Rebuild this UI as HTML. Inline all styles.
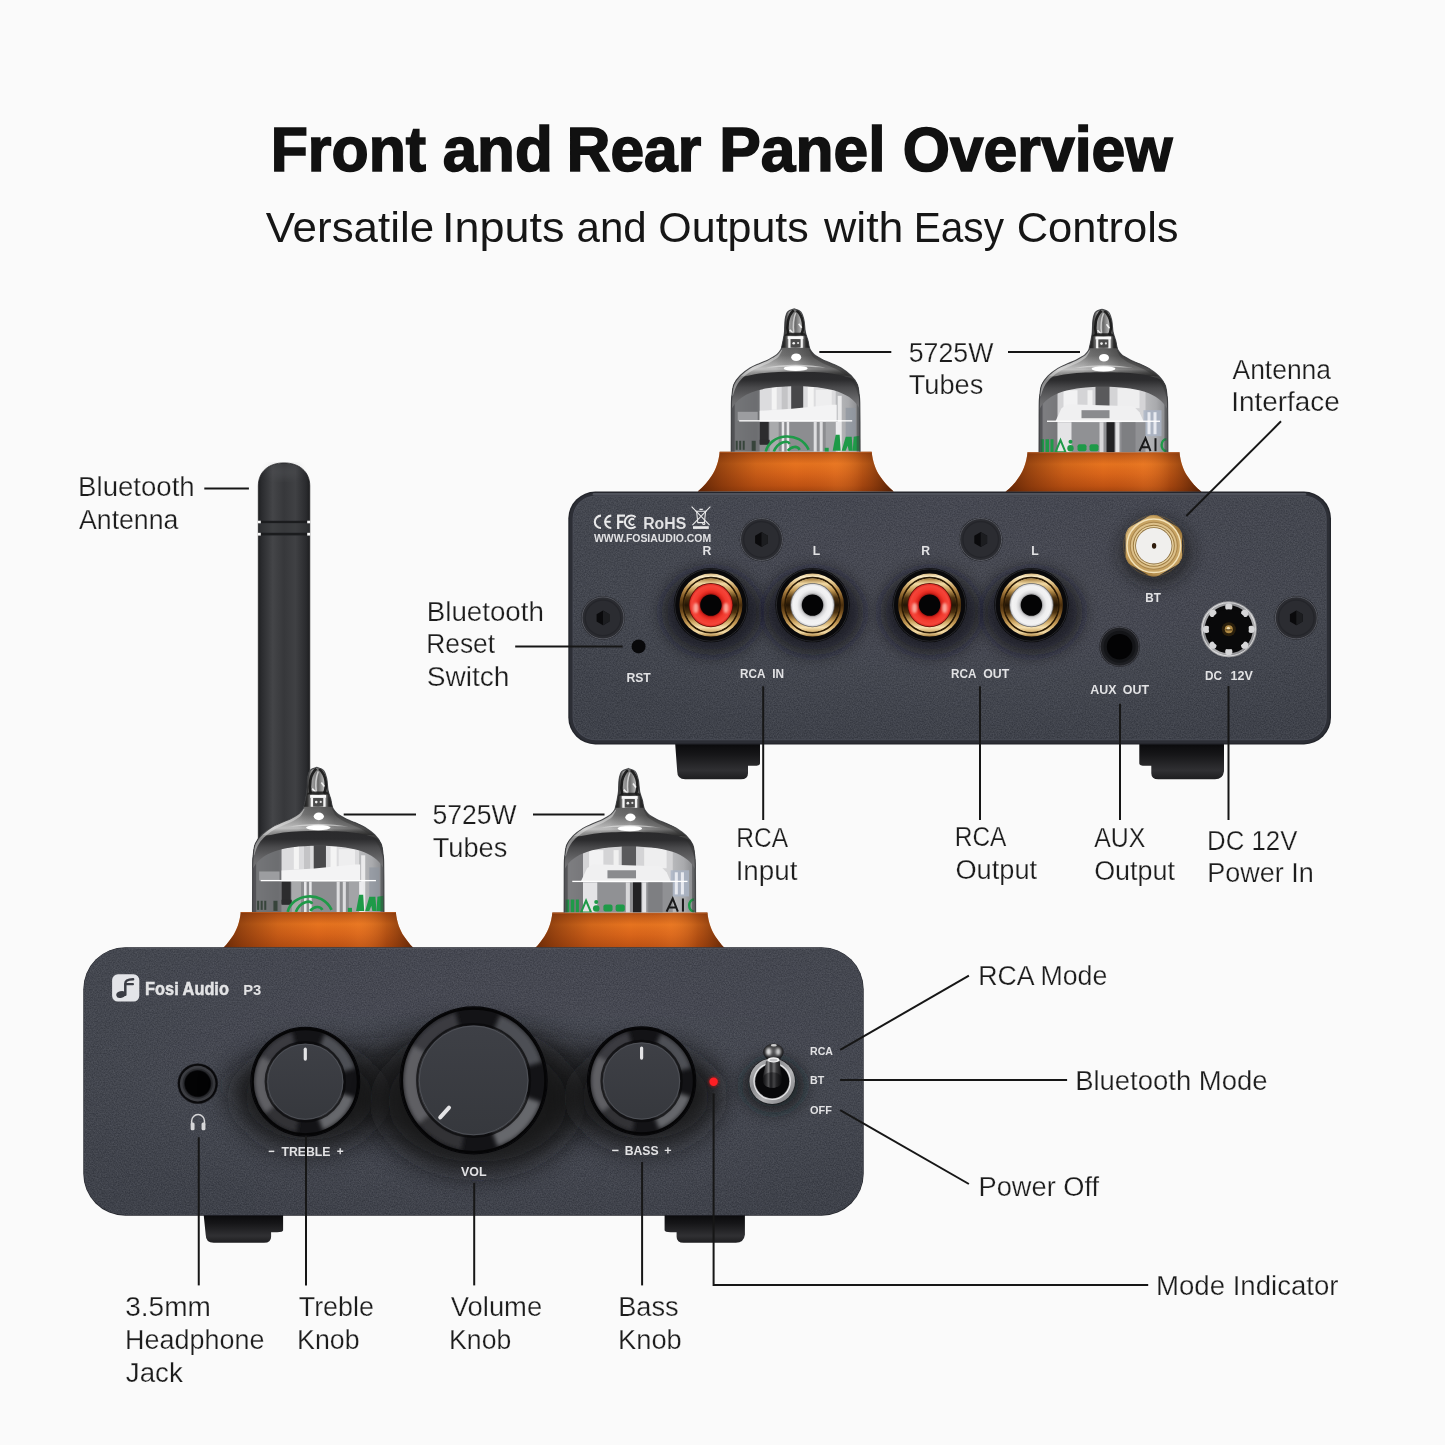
<!DOCTYPE html>
<html lang="en">
<head>
<meta charset="utf-8">
<title>Front and Rear Panel Overview</title>
<style>
html,body{margin:0;padding:0;background:#fafafa;width:1445px;height:1445px;overflow:hidden}
svg{display:block;position:absolute;left:0;top:0}
text{font-family:"Liberation Sans",sans-serif}
.lbl text{font-size:28.4px;fill:#1c1c1c;stroke:#fafafa;stroke-width:.25px;paint-order:fill stroke}
#labels,#headings,.pt{opacity:.999}
.ln{stroke:#161616;stroke-width:2;fill:none}
.pt text{font-weight:bold;fill:#e2e2e4}
</style>
</head>
<body>
<svg width="1445" height="1445" viewBox="0 0 1445 1445">
<defs>
<filter id="bl2" x="-30%" y="-30%" width="160%" height="160%"><feGaussianBlur stdDeviation="2"/></filter>
<filter id="bl4" x="-30%" y="-30%" width="160%" height="160%"><feGaussianBlur stdDeviation="4"/></filter>
<filter id="bl8" x="-100%" y="-100%" width="300%" height="300%"><feGaussianBlur stdDeviation="8"/></filter>
<filter id="bl14" x="-100%" y="-100%" width="300%" height="300%"><feGaussianBlur stdDeviation="14"/></filter>
<filter id="bl1" x="-30%" y="-30%" width="160%" height="160%"><feGaussianBlur stdDeviation="0.8"/></filter>

<filter id="grain" x="0" y="0" width="100%" height="100%" color-interpolation-filters="sRGB"><feTurbulence type="fractalNoise" baseFrequency="0.75" numOctaves="2" seed="7"/><feColorMatrix type="matrix" values="1.6 0 0 0 -0.3  1.6 0 0 0 -0.3  1.6 0 0 0 -0.28  0 0 0 0 1"/></filter>
<clipPath id="cpRear"><rect x="573.4" y="496.4" width="752.5" height="243" rx="22.4"/></clipPath>
<clipPath id="cpFront"><rect x="83.9" y="947.7" width="779.2" height="267.3" rx="41.5"/></clipPath>
<!-- orange base -->
<linearGradient id="orV" x1="0" y1="0" x2="0" y2="1">
<stop offset="0" stop-color="#a84a12"/><stop offset=".07" stop-color="#c25a18"/><stop offset=".3" stop-color="#e6731f"/><stop offset=".55" stop-color="#d9651a"/><stop offset=".85" stop-color="#c05313"/><stop offset="1" stop-color="#a5450e"/>
</linearGradient>
<linearGradient id="orH" x1="0" y1="0" x2="1" y2="0">
<stop offset="0" stop-color="#4a1b03" stop-opacity=".8"/><stop offset=".12" stop-color="#5e2406" stop-opacity=".55"/><stop offset=".3" stop-color="#6e2c08" stop-opacity=".18"/><stop offset=".5" stop-color="#7a330b" stop-opacity="0"/><stop offset=".7" stop-color="#ff9a40" stop-opacity=".12"/><stop offset=".84" stop-color="#6b2a08" stop-opacity=".35"/><stop offset="1" stop-color="#421803" stop-opacity=".85"/>
</linearGradient>

<!-- tube gradients -->
<linearGradient id="tbDome" gradientUnits="userSpaceOnUse" x1="0" y1="-125" x2="0" y2="-60">
<stop offset="0" stop-color="#6a6a6a"/><stop offset=".3" stop-color="#5e5e5e"/><stop offset=".44" stop-color="#6c6c6c"/><stop offset=".56" stop-color="#949494"/><stop offset=".65" stop-color="#b2b2b2"/><stop offset=".7" stop-color="#7a7a7a"/><stop offset=".76" stop-color="#4a4a4a"/><stop offset="1" stop-color="#3a3a3a"/>
</linearGradient>
<linearGradient id="tbDomeH" x1="0" y1="0" x2="1" y2="0">
<stop offset="0" stop-color="#fff" stop-opacity=".35"/><stop offset=".35" stop-color="#fff" stop-opacity=".12"/><stop offset=".5" stop-color="#000" stop-opacity="0"/><stop offset=".62" stop-color="#000" stop-opacity=".25"/><stop offset=".85" stop-color="#000" stop-opacity=".45"/><stop offset="1" stop-color="#000" stop-opacity=".3"/>
</linearGradient>
<linearGradient id="tbBand" gradientUnits="userSpaceOnUse" x1="0" y1="-80" x2="0" y2="-40">
<stop offset="0" stop-color="#2a2a2c"/><stop offset=".2" stop-color="#2c2c2e"/><stop offset=".4" stop-color="#4a4a4c"/><stop offset=".7" stop-color="#68686a"/><stop offset="1" stop-color="#7a7a7c"/>
</linearGradient>
<linearGradient id="tbBodyH" x1="0" y1="0" x2="1" y2="0">
<stop offset="0" stop-color="#55565a"/><stop offset=".05" stop-color="#8a8b8e"/><stop offset=".2" stop-color="#6e6f72"/><stop offset=".3" stop-color="#b9babc"/><stop offset=".5" stop-color="#d6d6d8"/><stop offset=".75" stop-color="#c4c5c7"/><stop offset=".9" stop-color="#a9aaad"/><stop offset=".97" stop-color="#8a8b8e"/><stop offset="1" stop-color="#5d5e62"/>
</linearGradient>
<linearGradient id="tbTip" x1="0" y1="0" x2="1" y2="0">
<stop offset="0" stop-color="#161616"/><stop offset=".14" stop-color="#303030"/><stop offset=".3" stop-color="#9c9c9c"/><stop offset=".5" stop-color="#6c6c6c"/><stop offset=".68" stop-color="#b4b4b4"/><stop offset=".84" stop-color="#2c2c2c"/><stop offset="1" stop-color="#141414"/>
</linearGradient>
<clipPath id="tbClip"><path d="M64.4 0C64.4 -5.0 64.3 -21.8 64.3 -30.0C64.2 -38.2 64.2 -44.7 64.1 -49.0C64.0 -53.3 64.0 -53.0 63.6 -56.0C63.2 -59.0 63.0 -63.9 61.6 -67.3C60.2 -70.7 57.9 -73.5 55.2 -76.3C52.5 -79.0 48.7 -81.8 45.5 -83.8C42.3 -85.8 38.6 -87.1 35.8 -88.4C32.9 -89.7 30.5 -90.4 28.4 -91.4C26.3 -92.4 24.7 -93.4 23.0 -94.4C21.3 -95.4 19.7 -96.1 18.3 -97.4C16.9 -98.7 15.4 -100.6 14.6 -102.0C13.8 -103.4 13.7 -104.3 13.3 -105.9C12.9 -107.5 12.8 -109.2 12.2 -111.5C11.6 -113.8 10.3 -116.6 9.6 -120.0C8.9 -123.4 9.0 -128.7 8.2 -132.0C7.4 -135.3 6.6 -138.2 5.0 -140.0C3.4 -141.8 -0.4 -142.5 -1.5 -143.0C-2.6 -142.5 -6.5 -141.8 -8.0 -140.0C-9.5 -138.2 -10.1 -135.3 -10.6 -132.0C-11.1 -128.7 -10.9 -123.4 -11.2 -120.0C-11.5 -116.6 -12.2 -113.8 -12.6 -111.5C-13.0 -109.2 -13.4 -107.5 -13.8 -105.9C-14.2 -104.3 -14.1 -103.4 -14.9 -102.0C-15.7 -100.6 -17.2 -98.7 -18.6 -97.4C-20.0 -96.1 -21.6 -95.4 -23.3 -94.4C-25.0 -93.4 -26.6 -92.4 -28.7 -91.4C-30.8 -90.4 -33.2 -89.7 -36.0 -88.4C-38.8 -87.1 -42.5 -85.8 -45.7 -83.8C-48.9 -81.8 -52.7 -79.0 -55.4 -76.3C-58.1 -73.5 -60.4 -70.7 -61.8 -67.3C-63.2 -63.9 -63.4 -59.0 -63.8 -56.0C-64.2 -53.0 -64.2 -53.3 -64.3 -49.0C-64.4 -44.7 -64.4 -38.2 -64.4 -30.0C-64.4 -21.8 -64.5 -5.0 -64.5 0.0Z"/></clipPath>

<!-- panels -->
<linearGradient id="pnlV" x1="0" y1="0" x2="0" y2="1">
<stop offset="0" stop-color="#3f424b"/><stop offset=".5" stop-color="#3d4049"/><stop offset="1" stop-color="#393c45"/>
</linearGradient>
<radialGradient id="pnlGlow" cx=".55" cy=".45" r=".6">
<stop offset="0" stop-color="#484b55" stop-opacity=".5"/><stop offset="1" stop-color="#484b55" stop-opacity="0"/>
</radialGradient>

<!-- gold -->
<linearGradient id="gold" x1="0" y1="0" x2="0" y2="1">
<stop offset="0" stop-color="#8d6a34"/><stop offset=".12" stop-color="#f3dcae"/><stop offset=".3" stop-color="#c59b57"/><stop offset=".55" stop-color="#6e4a1d"/><stop offset=".8" stop-color="#c79a52"/><stop offset=".92" stop-color="#f0d49c"/><stop offset="1" stop-color="#8a632a"/>
</linearGradient>
<linearGradient id="gold2" x1="0" y1="0" x2="1" y2="1">
<stop offset="0" stop-color="#ead2a0"/><stop offset=".3" stop-color="#c7a05c"/><stop offset=".6" stop-color="#a07838"/><stop offset=".85" stop-color="#caa566"/><stop offset="1" stop-color="#8e6a30"/>
</linearGradient>
<radialGradient id="redR" cx=".5" cy=".5" r=".5">
<stop offset=".48" stop-color="#8a0e0a"/><stop offset=".58" stop-color="#d8241c"/><stop offset=".72" stop-color="#f2392d"/><stop offset=".9" stop-color="#f4453a"/><stop offset="1" stop-color="#d9281f"/>
</radialGradient>
<radialGradient id="whtR" cx=".5" cy=".5" r=".5">
<stop offset=".48" stop-color="#8c8c8e"/><stop offset=".58" stop-color="#d4d4d6"/><stop offset=".72" stop-color="#efeff0"/><stop offset=".9" stop-color="#f3f3f4"/><stop offset="1" stop-color="#cfcfd1"/>
</radialGradient>

<linearGradient id="goldA" x1="0" y1="0" x2="0" y2="1">
<stop offset="0" stop-color="#d9b980"/><stop offset=".05" stop-color="#faecc8"/><stop offset=".12" stop-color="#e9cf98"/><stop offset=".25" stop-color="#b98d4a"/><stop offset=".4" stop-color="#6e4a1c"/><stop offset=".5" stop-color="#4a2f0e"/><stop offset=".62" stop-color="#76501f"/><stop offset=".8" stop-color="#c79d58"/><stop offset=".93" stop-color="#f3dba6"/><stop offset="1" stop-color="#a87e3c"/>
</linearGradient>
<linearGradient id="goldB" x1="0" y1="0" x2="0" y2="1">
<stop offset="0" stop-color="#a27a3c"/><stop offset=".1" stop-color="#f1d9a4"/><stop offset=".22" stop-color="#c39a55"/><stop offset=".36" stop-color="#4e3310"/><stop offset=".5" stop-color="#241606"/><stop offset=".64" stop-color="#4e3310"/><stop offset=".8" stop-color="#c9a05a"/><stop offset=".92" stop-color="#f5e0b0"/><stop offset="1" stop-color="#d2ad6c"/>
</linearGradient>
<!-- knob -->
<linearGradient id="knobRim" x1="0" y1="0" x2="1" y2="1">
<stop offset="0" stop-color="#2c2d31"/><stop offset=".22" stop-color="#3a3b40"/><stop offset=".38" stop-color="#0d0d10"/><stop offset=".62" stop-color="#0a0a0c"/><stop offset=".8" stop-color="#2a2b2f"/><stop offset="1" stop-color="#101013"/>
</linearGradient>
<linearGradient id="knobFace" x1="0" y1="0" x2="0" y2="1">
<stop offset="0" stop-color="#3e4046"/><stop offset="1" stop-color="#36383d"/>
</linearGradient>

<!-- antenna -->
<linearGradient id="antH" x1="0" y1="0" x2="1" y2="0">
<stop offset="0" stop-color="#1f2022"/><stop offset=".07" stop-color="#2b2c2f"/><stop offset=".28" stop-color="#444548"/><stop offset=".5" stop-color="#37383b"/><stop offset=".72" stop-color="#404144"/><stop offset=".93" stop-color="#2a2b2e"/><stop offset="1" stop-color="#1d1e20"/>
</linearGradient>

<!-- chrome lever -->
<linearGradient id="chromeH" x1="0" y1="0" x2="1" y2="0">
<stop offset="0" stop-color="#3a3a3c"/><stop offset=".25" stop-color="#d8d8da"/><stop offset=".45" stop-color="#f6f6f6"/><stop offset=".65" stop-color="#8a8a8c"/><stop offset="1" stop-color="#2a2a2c"/>
</linearGradient>
<linearGradient id="leverH" x1="0" y1="0" x2="1" y2="0">
<stop offset="0" stop-color="#141416"/><stop offset=".18" stop-color="#4a4a4c"/><stop offset=".3" stop-color="#858587"/><stop offset=".42" stop-color="#2c2c2e"/><stop offset=".58" stop-color="#6e6e70"/><stop offset=".72" stop-color="#38383a"/><stop offset="1" stop-color="#0e0e10"/>
</linearGradient>
<radialGradient id="ballR" cx=".5" cy=".45" r=".55">
<stop offset="0" stop-color="#5a5a5c"/><stop offset=".5" stop-color="#444446"/><stop offset=".85" stop-color="#222224"/><stop offset="1" stop-color="#101012"/>
</radialGradient>
<linearGradient id="silverRing" x1="0" y1="0" x2="1" y2="1">
<stop offset="0" stop-color="#c9c9cb"/><stop offset=".35" stop-color="#8a8b8e"/><stop offset=".6" stop-color="#b4b4b6"/><stop offset="1" stop-color="#707174"/>
</linearGradient>
<linearGradient id="footV" x1="0" y1="0" x2="0" y2="1">
<stop offset="0" stop-color="#0a0a0c"/><stop offset=".3" stop-color="#161618"/><stop offset=".75" stop-color="#303033"/><stop offset="1" stop-color="#1e1e20"/>
</linearGradient>


</defs>
<rect width="1445" height="1445" fill="#fafafa"/>

<!-- ===== HEADINGS ===== -->
<g id="headings">
<g font-size="63.6" font-weight="bold" fill="#111" stroke="#111" stroke-width="1.6">
<text x="270.7" y="171" textLength="155.38" lengthAdjust="spacingAndGlyphs">Front</text>
<text x="442.67" y="171" textLength="110.06" lengthAdjust="spacingAndGlyphs">and</text>
<text x="566.87" y="171" textLength="134.4" lengthAdjust="spacingAndGlyphs">Rear</text>
<text x="719.22" y="171" textLength="166.23" lengthAdjust="spacingAndGlyphs">Panel</text>
<text x="902.65" y="171" textLength="269.78" lengthAdjust="spacingAndGlyphs">Overview</text>
</g>
<g font-size="42.5" fill="#161616">
<text x="265.73" y="242" textLength="168.47" lengthAdjust="spacingAndGlyphs">Versatile</text>
<text x="442.03" y="242" textLength="122.43" lengthAdjust="spacingAndGlyphs">Inputs</text>
<text x="576.47" y="242" textLength="70.24" lengthAdjust="spacingAndGlyphs">and</text>
<text x="658.33" y="242" textLength="150.45" lengthAdjust="spacingAndGlyphs">Outputs</text>
<text x="823.94" y="242" textLength="79.48" lengthAdjust="spacingAndGlyphs">with</text>
<text x="913.65" y="242" textLength="90.33" lengthAdjust="spacingAndGlyphs">Easy</text>
<text x="1016.69" y="242" textLength="161.92" lengthAdjust="spacingAndGlyphs">Controls</text>
</g>
</g>

<g id="antenna">
<path d="M258.3 950V486C258.3 471 269.5 462.9 284 462.9C298.5 462.9 309.8 471 309.8 486V950Z" fill="url(#antH)"/>
<ellipse cx="284" cy="472" rx="15" ry="6" fill="#55565a" opacity=".45" filter="url(#bl4)"/>
<path d="M258.3 950V486C258.3 471 269.5 462.9 284 462.9C298.5 462.9 309.8 471 309.8 486V950" fill="none" stroke="#1c1d1f" stroke-width="1" opacity=".7"/>
<rect x="258.3" y="520.8" width="51.5" height="2.4" fill="#1b1c1e"/>
<rect x="258.3" y="523.2" width="51.5" height="9.6" fill="#38393c" opacity=".5"/>
<rect x="258.3" y="532.8" width="51.5" height="2.6" fill="#1b1c1e"/>
<rect x="257.8" y="520.7" width="3" height="2.6" fill="#fafafa"/><rect x="307.2" y="520.7" width="3" height="2.6" fill="#fafafa"/>
<rect x="257.8" y="532.8" width="3" height="2.8" fill="#fafafa"/><rect x="307.2" y="532.8" width="3" height="2.8" fill="#fafafa"/>
</g>

<g id="rear">
<g transform="translate(795.7 451.8) scale(1.0 1.0)">
<path d="M-76 0C-77 10-80 18-84 24C-88 30-92 35-98 39.6L98 39.6C92 35 88 30 84 24C80 18 77 10 76 0Z" fill="url(#orV)"/>
<path d="M-76 0C-77 10-80 18-84 24C-88 30-92 35-98 39.6L98 39.6C92 35 88 30 84 24C80 18 77 10 76 0Z" fill="url(#orH)"/>
<path d="M-76 0.6H76" stroke="#c8662a" stroke-width="1" opacity=".6"/>
<g clip-path="url(#tbClip)">
<rect x="-66" y="-145" width="132" height="146" fill="url(#tbBodyH)"/>
<rect x="-64" y="-68" width="28" height="70" fill="#6c6d70" opacity=".75"/>
<rect x="-36" y="-66" width="76" height="36" fill="#dcdcde"/>
<rect x="-24" y="-66" width="5" height="24" fill="#f4f4f4"/><rect x="-14" y="-66" width="6" height="24" fill="#c4c4c6"/>
<rect x="-4.5" y="-66" width="12" height="24" fill="#48484a"/>
<rect x="12" y="-66" width="6" height="22" fill="#f4f4f4"/><rect x="20" y="-62" width="16" height="18" fill="#eeeeef"/>
<path d="M-36-41L-4-43L36-47L41-47L41-31L-36-31Z" fill="#f3f3f4"/>
<rect x="-58" y="-40" width="20" height="9" fill="#9c9da0"/>
<rect x="42" y="-56" width="4" height="56" fill="#f0f0f1" opacity=".9"/><rect x="50" y="-44" width="10" height="30" fill="#8f95a0" opacity=".7"/>
<rect x="-36" y="-30" width="78" height="31" fill="#8c8d90"/>
<rect x="-36" y="-30" width="9" height="22" fill="#2c2c2e"/><rect x="-36" y="-12" width="12" height="5" fill="#2c2c2e"/>
<rect x="-26" y="-30" width="9" height="31" fill="#a9aaac"/>
<rect x="-14" y="-30" width="2.5" height="31" fill="#e8e8ea"/><rect x="-9" y="-30" width="2.5" height="31" fill="#e8e8ea"/>
<rect x="18" y="-30" width="3" height="31" fill="#dedee0"/><rect x="24" y="-30" width="3" height="31" fill="#dedee0"/><rect x="30" y="-30" width="10" height="31" fill="#a3a4a7"/>
<rect x="40" y="-30" width="4" height="31" fill="#ececee"/>
<g fill="none" stroke="#1e9a48" stroke-width="2.6"><path d="M-30 0C-26-18 4-22 13-2"/><path d="M-22 0C-18-10-8-12-6-8"/><path d="M-8-1C-4-6 2-6 4-2"/></g>
<g fill="#1e9a48"><path d="M37-1L40-17L44-17L45-1Z"/><path d="M46-1L50-15L56-15L57-1L53-1L52-6L50-1Z"/><path d="M57-1L58-15L64-16L64-1Z"/><rect x="29" y="-4" width="4" height="4"/></g>
<g fill="#2a3a2e" opacity=".8"><rect x="-60" y="-11" width="2" height="9"/><rect x="-56.5" y="-11" width="2" height="9"/><rect x="-53" y="-11" width="2" height="9"/><rect x="-44" y="-11" width="4" height="10"/></g>
<rect x="-56.5" y="-31.6" width="113" height="1.3" fill="#fff"/>
<rect x="-66" y="-70" width="5" height="72" fill="#3c3d40" opacity=".55"/><rect x="61" y="-70" width="5" height="72" fill="#3c3d40" opacity=".5"/>
<path d="M-66-40V-125H66V-40C60-56 45-66 0-66C-45-66-60-56-66-40Z" fill="url(#tbDome)"/>
<rect x="-66" y="-112" width="132" height="36" fill="url(#tbDomeH)"/>
<path d="M-66-38V-68C-50-79-25-80 0-80C25-80 50-79 66-68V-38C61-54 45-65.5 0-65.5C-45-65.5-61-54-66-38Z" fill="url(#tbBand)"/>
<path d="M-14.9 -102C-15.5 -101.2 -17.2 -98.7 -18.6 -97.4C-20.0 -96.1 -21.6 -95.4 -23.3 -94.4C-25.0 -93.4 -26.6 -92.4 -28.7 -91.4C-30.8 -90.4 -33.2 -89.7 -36.0 -88.4C-38.8 -87.1 -42.5 -85.8 -45.7 -83.8C-48.9 -81.8 -52.7 -79.0 -55.4 -76.3C-58.1 -73.5 -60.4 -70.7 -61.8 -67.3C-63.2 -63.9 -63.5 -57.9 -63.8 -56.0L-62.8 -56C-62.2 -57.6 -60.8 -62.8 -59.2 -65.7C-57.6 -68.7 -55.7 -71.2 -53.2 -73.7C-50.7 -76.2 -47.2 -78.8 -44.1 -80.8C-41.0 -82.8 -37.4 -84.1 -34.6 -85.4C-31.8 -86.7 -29.3 -87.5 -27.1 -88.6C-24.9 -89.7 -23.1 -90.8 -21.3 -92.0C-19.6 -93.2 -17.9 -94.2 -16.6 -95.9C-15.3 -97.6 -13.9 -101.0 -13.4 -102.0Z" fill="#e4e4e4" opacity=".5"/>
<path d="M14.9 -102C15.5 -101.2 17.2 -98.7 18.6 -97.4C20.0 -96.1 21.6 -95.4 23.3 -94.4C25.0 -93.4 26.6 -92.4 28.7 -91.4C30.8 -90.4 33.2 -89.7 36.0 -88.4C38.8 -87.1 42.5 -85.8 45.7 -83.8C48.9 -81.8 52.7 -79.0 55.4 -76.3C58.1 -73.5 60.4 -70.7 61.8 -67.3C63.2 -63.9 63.5 -57.9 63.8 -56.0L62.8 -56C62.2 -57.6 60.8 -62.8 59.2 -65.7C57.6 -68.7 55.7 -71.2 53.2 -73.7C50.7 -76.2 47.2 -78.8 44.1 -80.8C41.0 -82.8 37.4 -84.1 34.6 -85.4C31.8 -86.7 29.3 -87.5 27.1 -88.6C24.9 -89.7 23.1 -90.8 21.3 -92.0C19.6 -93.2 17.9 -94.2 16.6 -95.9C15.3 -97.6 13.9 -101.0 13.4 -102.0Z" fill="#2a2a2a" opacity=".35"/>
<path d="M-15-104L-11-132C-11-139-6-144-2-144C3-144 8-139 9-132L15-104Z" fill="url(#tbTip)"/>
<path d="M-7.5-117C-9.5-126-8-136-2-141.5M5.5-117C9-124 8-135 1-141.5" stroke="#141414" stroke-width="2.6" fill="none" opacity=".9"/>
<path d="M-2-119C-3-127-2-134 0-139" stroke="#e8e8e8" stroke-width="1.5" fill="none" opacity=".75"/>
<path d="M-6-122L-2-118M3-128L6-124" stroke="#fff" stroke-width="1.6" fill="none" opacity=".85"/>
<path d="M-12-116L-8-119L8-119L12-116Z" fill="#1a1a1a" opacity=".85"/>
<rect x="-8" y="-115.6" width="15.6" height="2.8" fill="#fafafa"/>
<rect x="-7.4" y="-113" width="2.3" height="9" fill="#f4f4f4"/><rect x="4.8" y="-113" width="2.3" height="9" fill="#f4f4f4"/>
<rect x="-5" y="-112.6" width="9.8" height="8" fill="#4a4a4a"/>
<circle cx="-2" cy="-108.6" r="1.3" fill="#f0f0f0"/><circle cx="2.4" cy="-108.8" r="1.1" fill="#e0e0e0"/>
<ellipse cx="0.5" cy="-94.5" rx="5" ry="3.8" fill="#fff"/>
<ellipse cx="0" cy="-83.4" rx="12" ry="2.7" fill="#fff"/>
<path d="M-30-84C-14-88 14-88 30-84C14-85.5-14-85.5-30-84Z" fill="#e8e8e8" opacity=".6"/>
</g>
<path d="M64.4 0C64.4 -5.0 64.3 -21.8 64.3 -30.0C64.2 -38.2 64.2 -44.7 64.1 -49.0C64.0 -53.3 64.0 -53.0 63.6 -56.0C63.2 -59.0 63.0 -63.9 61.6 -67.3C60.2 -70.7 57.9 -73.5 55.2 -76.3C52.5 -79.0 48.7 -81.8 45.5 -83.8C42.3 -85.8 38.6 -87.1 35.8 -88.4C32.9 -89.7 30.5 -90.4 28.4 -91.4C26.3 -92.4 24.7 -93.4 23.0 -94.4C21.3 -95.4 19.7 -96.1 18.3 -97.4C16.9 -98.7 15.4 -100.6 14.6 -102.0C13.8 -103.4 13.7 -104.3 13.3 -105.9C12.9 -107.5 12.8 -109.2 12.2 -111.5C11.6 -113.8 10.3 -116.6 9.6 -120.0C8.9 -123.4 9.0 -128.7 8.2 -132.0C7.4 -135.3 6.6 -138.2 5.0 -140.0C3.4 -141.8 -0.4 -142.5 -1.5 -143.0C-2.6 -142.5 -6.5 -141.8 -8.0 -140.0C-9.5 -138.2 -10.1 -135.3 -10.6 -132.0C-11.1 -128.7 -10.9 -123.4 -11.2 -120.0C-11.5 -116.6 -12.2 -113.8 -12.6 -111.5C-13.0 -109.2 -13.4 -107.5 -13.8 -105.9C-14.2 -104.3 -14.1 -103.4 -14.9 -102.0C-15.7 -100.6 -17.2 -98.7 -18.6 -97.4C-20.0 -96.1 -21.6 -95.4 -23.3 -94.4C-25.0 -93.4 -26.6 -92.4 -28.7 -91.4C-30.8 -90.4 -33.2 -89.7 -36.0 -88.4C-38.8 -87.1 -42.5 -85.8 -45.7 -83.8C-48.9 -81.8 -52.7 -79.0 -55.4 -76.3C-58.1 -73.5 -60.4 -70.7 -61.8 -67.3C-63.2 -63.9 -63.4 -59.0 -63.8 -56.0C-64.2 -53.0 -64.2 -53.3 -64.3 -49.0C-64.4 -44.7 -64.4 -38.2 -64.4 -30.0C-64.4 -21.8 -64.5 -5.0 -64.5 0.0" fill="none" stroke="#38393c" stroke-width="1.1" opacity=".85"/>
</g>
<g transform="translate(1103.5 452.2) scale(1.0 1.0)">
<path d="M-76 0C-77 10-80 18-84 24C-88 30-92 35-98 39.6L98 39.6C92 35 88 30 84 24C80 18 77 10 76 0Z" fill="url(#orV)"/>
<path d="M-76 0C-77 10-80 18-84 24C-88 30-92 35-98 39.6L98 39.6C92 35 88 30 84 24C80 18 77 10 76 0Z" fill="url(#orH)"/>
<path d="M-76 0.6H76" stroke="#c8662a" stroke-width="1" opacity=".6"/>
<g clip-path="url(#tbClip)">
<rect x="-66" y="-145" width="132" height="146" fill="url(#tbBodyH)"/>
<rect x="-64" y="-68" width="18" height="70" fill="#77787b" opacity=".7"/>
<rect x="-46" y="-66" width="88" height="36" fill="#d4d4d6"/>
<rect x="-40" y="-62" width="14" height="20" fill="#f2f2f3"/>
<rect x="-8" y="-66" width="14" height="22" fill="#5a5a5c"/><rect x="-16" y="-62" width="5" height="18" fill="#f0f0f0"/>
<rect x="14" y="-64" width="22" height="20" fill="#eeeeef"/>
<path d="M-42-44L-36-48L30-46L36-40L40-31L-48-31Z" fill="#f0f0f1"/>
<rect x="-22" y="-42" width="28" height="8" fill="#8a8b8e"/>
<rect x="40" y="-42" width="18" height="26" fill="#aab4c6" opacity=".8"/><rect x="44" y="-40" width="3" height="22" fill="#e8eaf0"/><rect x="50" y="-40" width="3" height="22" fill="#e8eaf0"/>
<rect x="-46" y="-30" width="88" height="31" fill="#909194"/>
<rect x="-46" y="-30" width="14" height="31" fill="#e4e4e6"/>
<rect x="3" y="-30" width="8" height="31" fill="#222224"/><rect x="12" y="-30" width="4" height="31" fill="#e4e4e6"/><rect x="-4" y="-30" width="4" height="31" fill="#d8d8da"/>
<rect x="18" y="-30" width="14" height="31" fill="#7e7f82"/>
<g fill="#1e9a48"><rect x="-63" y="-13" width="3.5" height="13"/><rect x="-58" y="-13" width="3.5" height="13"/><rect x="-53" y="-13" width="3" height="13"/><path d="M-48 0L-43-12L-38 0Z" fill="none" stroke="#1e9a48" stroke-width="2"/><circle cx="-33" cy="-4" r="3.2"/><circle cx="-33" cy="-10.5" r="2"/><rect x="-26" y="-8" width="9" height="7" rx="2"/><rect x="-14" y="-8" width="9" height="7" rx="2"/></g>
<path d="M36-1L42-14L47-1M38.5-5H45" fill="none" stroke="#1a1a1a" stroke-width="2"/><rect x="51" y="-14" width="2" height="13" fill="#1a1a1a"/><path d="M63-13C57-13 56-2 63-1" fill="none" stroke="#1e9a48" stroke-width="2.4"/>
<rect x="-56.5" y="-31.6" width="113" height="1.3" fill="#fff"/>
<rect x="-66" y="-70" width="5" height="72" fill="#3c3d40" opacity=".55"/><rect x="61" y="-70" width="5" height="72" fill="#3c3d40" opacity=".5"/>
<path d="M-66-40V-125H66V-40C60-56 45-66 0-66C-45-66-60-56-66-40Z" fill="url(#tbDome)"/>
<rect x="-66" y="-112" width="132" height="36" fill="url(#tbDomeH)"/>
<path d="M-66-38V-68C-50-79-25-80 0-80C25-80 50-79 66-68V-38C61-54 45-65.5 0-65.5C-45-65.5-61-54-66-38Z" fill="url(#tbBand)"/>
<path d="M-14.9 -102C-15.5 -101.2 -17.2 -98.7 -18.6 -97.4C-20.0 -96.1 -21.6 -95.4 -23.3 -94.4C-25.0 -93.4 -26.6 -92.4 -28.7 -91.4C-30.8 -90.4 -33.2 -89.7 -36.0 -88.4C-38.8 -87.1 -42.5 -85.8 -45.7 -83.8C-48.9 -81.8 -52.7 -79.0 -55.4 -76.3C-58.1 -73.5 -60.4 -70.7 -61.8 -67.3C-63.2 -63.9 -63.5 -57.9 -63.8 -56.0L-62.8 -56C-62.2 -57.6 -60.8 -62.8 -59.2 -65.7C-57.6 -68.7 -55.7 -71.2 -53.2 -73.7C-50.7 -76.2 -47.2 -78.8 -44.1 -80.8C-41.0 -82.8 -37.4 -84.1 -34.6 -85.4C-31.8 -86.7 -29.3 -87.5 -27.1 -88.6C-24.9 -89.7 -23.1 -90.8 -21.3 -92.0C-19.6 -93.2 -17.9 -94.2 -16.6 -95.9C-15.3 -97.6 -13.9 -101.0 -13.4 -102.0Z" fill="#e4e4e4" opacity=".5"/>
<path d="M14.9 -102C15.5 -101.2 17.2 -98.7 18.6 -97.4C20.0 -96.1 21.6 -95.4 23.3 -94.4C25.0 -93.4 26.6 -92.4 28.7 -91.4C30.8 -90.4 33.2 -89.7 36.0 -88.4C38.8 -87.1 42.5 -85.8 45.7 -83.8C48.9 -81.8 52.7 -79.0 55.4 -76.3C58.1 -73.5 60.4 -70.7 61.8 -67.3C63.2 -63.9 63.5 -57.9 63.8 -56.0L62.8 -56C62.2 -57.6 60.8 -62.8 59.2 -65.7C57.6 -68.7 55.7 -71.2 53.2 -73.7C50.7 -76.2 47.2 -78.8 44.1 -80.8C41.0 -82.8 37.4 -84.1 34.6 -85.4C31.8 -86.7 29.3 -87.5 27.1 -88.6C24.9 -89.7 23.1 -90.8 21.3 -92.0C19.6 -93.2 17.9 -94.2 16.6 -95.9C15.3 -97.6 13.9 -101.0 13.4 -102.0Z" fill="#2a2a2a" opacity=".35"/>
<path d="M-15-104L-11-132C-11-139-6-144-2-144C3-144 8-139 9-132L15-104Z" fill="url(#tbTip)"/>
<path d="M-7.5-117C-9.5-126-8-136-2-141.5M5.5-117C9-124 8-135 1-141.5" stroke="#141414" stroke-width="2.6" fill="none" opacity=".9"/>
<path d="M-2-119C-3-127-2-134 0-139" stroke="#e8e8e8" stroke-width="1.5" fill="none" opacity=".75"/>
<path d="M-6-122L-2-118M3-128L6-124" stroke="#fff" stroke-width="1.6" fill="none" opacity=".85"/>
<path d="M-12-116L-8-119L8-119L12-116Z" fill="#1a1a1a" opacity=".85"/>
<rect x="-8" y="-115.6" width="15.6" height="2.8" fill="#fafafa"/>
<rect x="-7.4" y="-113" width="2.3" height="9" fill="#f4f4f4"/><rect x="4.8" y="-113" width="2.3" height="9" fill="#f4f4f4"/>
<rect x="-5" y="-112.6" width="9.8" height="8" fill="#4a4a4a"/>
<circle cx="-2" cy="-108.6" r="1.3" fill="#f0f0f0"/><circle cx="2.4" cy="-108.8" r="1.1" fill="#e0e0e0"/>
<ellipse cx="0.5" cy="-94.5" rx="5" ry="3.8" fill="#fff"/>
<ellipse cx="0" cy="-83.4" rx="12" ry="2.7" fill="#fff"/>
<path d="M-30-84C-14-88 14-88 30-84C14-85.5-14-85.5-30-84Z" fill="#e8e8e8" opacity=".6"/>
</g>
<path d="M64.4 0C64.4 -5.0 64.3 -21.8 64.3 -30.0C64.2 -38.2 64.2 -44.7 64.1 -49.0C64.0 -53.3 64.0 -53.0 63.6 -56.0C63.2 -59.0 63.0 -63.9 61.6 -67.3C60.2 -70.7 57.9 -73.5 55.2 -76.3C52.5 -79.0 48.7 -81.8 45.5 -83.8C42.3 -85.8 38.6 -87.1 35.8 -88.4C32.9 -89.7 30.5 -90.4 28.4 -91.4C26.3 -92.4 24.7 -93.4 23.0 -94.4C21.3 -95.4 19.7 -96.1 18.3 -97.4C16.9 -98.7 15.4 -100.6 14.6 -102.0C13.8 -103.4 13.7 -104.3 13.3 -105.9C12.9 -107.5 12.8 -109.2 12.2 -111.5C11.6 -113.8 10.3 -116.6 9.6 -120.0C8.9 -123.4 9.0 -128.7 8.2 -132.0C7.4 -135.3 6.6 -138.2 5.0 -140.0C3.4 -141.8 -0.4 -142.5 -1.5 -143.0C-2.6 -142.5 -6.5 -141.8 -8.0 -140.0C-9.5 -138.2 -10.1 -135.3 -10.6 -132.0C-11.1 -128.7 -10.9 -123.4 -11.2 -120.0C-11.5 -116.6 -12.2 -113.8 -12.6 -111.5C-13.0 -109.2 -13.4 -107.5 -13.8 -105.9C-14.2 -104.3 -14.1 -103.4 -14.9 -102.0C-15.7 -100.6 -17.2 -98.7 -18.6 -97.4C-20.0 -96.1 -21.6 -95.4 -23.3 -94.4C-25.0 -93.4 -26.6 -92.4 -28.7 -91.4C-30.8 -90.4 -33.2 -89.7 -36.0 -88.4C-38.8 -87.1 -42.5 -85.8 -45.7 -83.8C-48.9 -81.8 -52.7 -79.0 -55.4 -76.3C-58.1 -73.5 -60.4 -70.7 -61.8 -67.3C-63.2 -63.9 -63.4 -59.0 -63.8 -56.0C-64.2 -53.0 -64.2 -53.3 -64.3 -49.0C-64.4 -44.7 -64.4 -38.2 -64.4 -30.0C-64.4 -21.8 -64.5 -5.0 -64.5 0.0" fill="none" stroke="#38393c" stroke-width="1.1" opacity=".85"/>
</g>
<path d="M675.2 744H760V763.4Q760 765.8 754.0 765.8H748.0V773.2Q748.0 779.2 741.0 779.2H685.2Q677.2 779.2 677.2 771.2Z" fill="url(#footV)"/>
<path d="M1139.3 744H1224V771.2Q1223.0 779.2 1215.0 779.2H1158.3Q1151.3 779.2 1151.3 773.2V765.8H1145.3Q1139.3 765.8 1139.3 763.4Z" fill="url(#footV)"/>
<rect x="568.3" y="491.6" width="762.7" height="252.8" rx="27" fill="#23252b"/>
<rect x="569.6" y="492.8" width="760.1" height="250.4" rx="26" fill="#2c2e35"/>
<path d="M594 494.3H1305" stroke="#555861" stroke-width="2.6" stroke-linecap="round" opacity=".9"/>
<rect x="572.6" y="495.6" width="754.1" height="244.6" rx="23" fill="#4a4d57"/>
<rect x="573.4" y="496.4" width="752.5" height="243" rx="22.4" fill="url(#pnlV)"/>
<rect x="573.4" y="496.4" width="752.5" height="243" rx="22.4" fill="url(#pnlGlow)"/>
<g clip-path="url(#cpRear)" opacity=".09"><rect x="573" y="496" width="754" height="244" filter="url(#grain)"/></g>
<g transform="translate(761.5 539.5)">
<circle r="21.8" fill="#1d1e22"/>
<circle r="21" fill="#2b2c31" stroke="#585a62" stroke-width="1"/>
<circle r="17.8" fill="none" stroke="#24252a" stroke-width="1.2"/>
<path d="M0-7.4L6.4-3.7V3.7L0 7.4L-6.4 3.7V-3.7Z" fill="#0a0a0c"/>
<path d="M0-7.4L6.4-3.7V3.7L0 7.4Z" fill="#1c1d20"/>
</g>
<g transform="translate(980.7 539.5)">
<circle r="21.8" fill="#1d1e22"/>
<circle r="21" fill="#2b2c31" stroke="#585a62" stroke-width="1"/>
<circle r="17.8" fill="none" stroke="#24252a" stroke-width="1.2"/>
<path d="M0-7.4L6.4-3.7V3.7L0 7.4L-6.4 3.7V-3.7Z" fill="#0a0a0c"/>
<path d="M0-7.4L6.4-3.7V3.7L0 7.4Z" fill="#1c1d20"/>
</g>
<g transform="translate(603 617.9)">
<circle r="21.8" fill="#1d1e22"/>
<circle r="21" fill="#2b2c31" stroke="#585a62" stroke-width="1"/>
<circle r="17.8" fill="none" stroke="#24252a" stroke-width="1.2"/>
<path d="M0-7.4L6.4-3.7V3.7L0 7.4L-6.4 3.7V-3.7Z" fill="#0a0a0c"/>
<path d="M0-7.4L6.4-3.7V3.7L0 7.4Z" fill="#1c1d20"/>
</g>
<g transform="translate(1296.3 617.9)">
<circle r="21.8" fill="#1d1e22"/>
<circle r="21" fill="#2b2c31" stroke="#585a62" stroke-width="1"/>
<circle r="17.8" fill="none" stroke="#24252a" stroke-width="1.2"/>
<path d="M0-7.4L6.4-3.7V3.7L0 7.4L-6.4 3.7V-3.7Z" fill="#0a0a0c"/>
<path d="M0-7.4L6.4-3.7V3.7L0 7.4Z" fill="#1c1d20"/>
</g>
<g transform="translate(710.9 605.1)">
<ellipse cx="1" cy="7" rx="50" ry="43" fill="#101115" opacity=".65" filter="url(#bl8)"/>
<circle r="37.2" fill="#09090b"/>
<circle r="36.2" fill="none" stroke="#26272b" stroke-width="1"/>
<circle r="31.5" fill="url(#goldA)"/>
<circle r="27.5" fill="none" stroke="#2a1a06" stroke-width="1.7"/>
<circle r="26.6" fill="url(#goldB)"/>
<circle r="22.2" fill="#5a0e08"/>
<circle r="21.4" fill="url(#redR)"/>
<ellipse cx="-15" cy="3" rx="2.6" ry="5" fill="#ffd0c4" opacity=".7" filter="url(#bl1)"/><ellipse cx="15" cy="3" rx="2.6" ry="5" fill="#ffd0c4" opacity=".7" filter="url(#bl1)"/>
<circle r="10.7" fill="#040405"/>
</g>
<g transform="translate(812.5 605.1)">
<ellipse cx="1" cy="7" rx="50" ry="43" fill="#101115" opacity=".65" filter="url(#bl8)"/>
<circle r="37.2" fill="#09090b"/>
<circle r="36.2" fill="none" stroke="#26272b" stroke-width="1"/>
<circle r="31.5" fill="url(#goldA)"/>
<circle r="27.5" fill="none" stroke="#2a1a06" stroke-width="1.7"/>
<circle r="26.6" fill="url(#goldB)"/>
<circle r="22.2" fill="#6a6a6c"/>
<circle r="21.4" fill="url(#whtR)"/>

<circle r="10.7" fill="#040405"/>
</g>
<g transform="translate(929.6 605.1)">
<ellipse cx="1" cy="7" rx="50" ry="43" fill="#101115" opacity=".65" filter="url(#bl8)"/>
<circle r="37.2" fill="#09090b"/>
<circle r="36.2" fill="none" stroke="#26272b" stroke-width="1"/>
<circle r="31.5" fill="url(#goldA)"/>
<circle r="27.5" fill="none" stroke="#2a1a06" stroke-width="1.7"/>
<circle r="26.6" fill="url(#goldB)"/>
<circle r="22.2" fill="#5a0e08"/>
<circle r="21.4" fill="url(#redR)"/>
<ellipse cx="-15" cy="3" rx="2.6" ry="5" fill="#ffd0c4" opacity=".7" filter="url(#bl1)"/><ellipse cx="15" cy="3" rx="2.6" ry="5" fill="#ffd0c4" opacity=".7" filter="url(#bl1)"/>
<circle r="10.7" fill="#040405"/>
</g>
<g transform="translate(1031.4 605.1)">
<ellipse cx="1" cy="7" rx="50" ry="43" fill="#101115" opacity=".65" filter="url(#bl8)"/>
<circle r="37.2" fill="#09090b"/>
<circle r="36.2" fill="none" stroke="#26272b" stroke-width="1"/>
<circle r="31.5" fill="url(#goldA)"/>
<circle r="27.5" fill="none" stroke="#2a1a06" stroke-width="1.7"/>
<circle r="26.6" fill="url(#goldB)"/>
<circle r="22.2" fill="#6a6a6c"/>
<circle r="21.4" fill="url(#whtR)"/>

<circle r="10.7" fill="#040405"/>
</g>
<circle cx="638.6" cy="646.4" r="7" fill="#08080a"/>
<g transform="translate(1119.6 646.7)"><circle r="20.2" fill="#1a1b1f"/><circle r="19.4" fill="#1e1f23" stroke="#494b52" stroke-width=".9"/><circle r="16" fill="#141518"/><circle r="12.8" fill="#030304"/></g>
<g transform="translate(1153.8 545.8)">
<ellipse cx="2" cy="6" rx="36" ry="33" fill="#121317" opacity=".6" filter="url(#bl8)"/>
<clipPath id="smaC"><circle r="30.8"/></clipPath>
<g clip-path="url(#smaC)"><polygon points="28.23,16.30 0.00,32.60 -28.23,16.30 -28.23,-16.30 -0.00,-32.60 28.23,-16.30" fill="url(#gold2)"/></g>
<circle r="30.2" fill="none" stroke="#8a6a34" stroke-width=".8" opacity=".6"/>
<circle r="26.8" fill="#c8a464"/><circle r="26.8" fill="none" stroke="#f3e2b8" stroke-width="1.5"/>
<circle r="24" fill="#a8844a"/><circle r="23" fill="#dcc08a"/>
<circle r="21" fill="#9c7a40"/><circle r="20" fill="#e8d2a2"/>
<circle r="18.6" fill="#8a6c3a"/>
<circle r="17.8" fill="#f0efed"/>
<ellipse cx=".3" cy="0" rx="2.2" ry="2.9" fill="#2e1c0c"/>
</g>
<g transform="translate(1228.8 629.3)">
<circle r="28" fill="url(#silverRing)"/>
<circle r="26.6" fill="none" stroke="#f2f2f4" stroke-width=".9" opacity=".8"/>
<circle r="24" fill="#09090a"/>
<circle cx="0.00" cy="-22.40" r="3.6" fill="#d6d6d8"/><circle cx="15.84" cy="-15.84" r="3.6" fill="#d6d6d8"/><circle cx="22.40" cy="-0.00" r="3.6" fill="#d6d6d8"/><circle cx="15.84" cy="15.84" r="3.6" fill="#d6d6d8"/><circle cx="0.00" cy="22.40" r="3.6" fill="#d6d6d8"/><circle cx="-15.84" cy="15.84" r="3.6" fill="#d6d6d8"/><circle cx="-22.40" cy="0.00" r="3.6" fill="#d6d6d8"/><circle cx="-15.84" cy="-15.84" r="3.6" fill="#d6d6d8"/>
<circle r="20" fill="#09090a"/>
<circle r="7" fill="#2a1f0c"/><circle r="4" fill="#b08a44"/><circle cx="-.4" cy="-1" r="1.6" fill="#f3deb0"/><path d="M-3.4 .6H3.4" stroke="#3a2a10" stroke-width=".9"/>
</g>
<g class="pt">
<text x="707" y="554.6" font-size="12.2" text-anchor="middle">R</text>
<text x="816.4" y="554.6" font-size="12.2" text-anchor="middle">L</text>
<text x="925.6" y="554.6" font-size="12.2" text-anchor="middle">R</text>
<text x="1035" y="554.6" font-size="12.2" text-anchor="middle">L</text>
<text x="626.4" y="682.2" font-size="12" textLength="24.4" lengthAdjust="spacingAndGlyphs">RST</text>
<text x="740" y="678" font-size="12.4" textLength="25.4" lengthAdjust="spacingAndGlyphs">RCA</text><text x="772.3" y="678" font-size="12.4" textLength="11.9" lengthAdjust="spacingAndGlyphs">IN</text>
<text x="951" y="678" font-size="12.4" textLength="25.4" lengthAdjust="spacingAndGlyphs">RCA</text><text x="983.2" y="678" font-size="12.4" textLength="26" lengthAdjust="spacingAndGlyphs">OUT</text>
<text x="1090.3" y="694" font-size="12.4" textLength="26.2" lengthAdjust="spacingAndGlyphs">AUX</text><text x="1122.8" y="694" font-size="12.4" textLength="26.2" lengthAdjust="spacingAndGlyphs">OUT</text>
<text x="1205" y="679.8" font-size="12.4" textLength="17" lengthAdjust="spacingAndGlyphs">DC</text><text x="1230.5" y="679.8" font-size="12.4" textLength="22.3" lengthAdjust="spacingAndGlyphs">12V</text>
<text x="1145.2" y="601.8" font-size="12.2" textLength="15.6" lengthAdjust="spacingAndGlyphs">BT</text>
<text x="594" y="541.6" font-size="10.6" textLength="117.2" lengthAdjust="spacingAndGlyphs">WWW.FOSIAUDIO.COM</text>
<g fill="none" stroke="#e9e9ea" stroke-width="2.1">
<path d="M601 515.6A6.2 6.2 0 0 0 601 528"/>
<path d="M611.3 515.6A6.2 6.2 0 0 0 611.3 528M606.2 521.8H610.6"/>
<path d="M618.2 529.1V515.7H625M618.2 521.9H623.6" stroke-width="2.3"/>
<path d="M635.6 517.2A6.4 6.4 0 1 0 635.6 526.6" stroke-width="2"/>
<path d="M634.2 519.6A3 3 0 1 0 634.2 524.2" stroke-width="1.7"/>
</g>
<text x="643.2" y="529.1" font-size="17.4" textLength="43" lengthAdjust="spacingAndGlyphs">RoHS</text>
<g fill="none" stroke="#e9e9ea" stroke-width="1.1">
<path d="M691.6 506.6L709.6 525.2M710.4 506.6L692.4 525.2"/>
<path d="M696.6 511.2H705.6L704.4 522.6H697.8ZM695.6 511.2H706.6M699.4 509.4H702.8"/>
<circle cx="703.8" cy="523.4" r="1.1"/>
</g>
<rect x="693" y="526.2" width="15.8" height="2.7" fill="#e9e9ea"/>
</g>
</g>

<g id="front">
<g transform="translate(318.3 911.9) scale(1.02 1.011)">
<path d="M-76 0C-77 10-80 18-84 24C-88 30-92 35-98 39.6L98 39.6C92 35 88 30 84 24C80 18 77 10 76 0Z" fill="url(#orV)"/>
<path d="M-76 0C-77 10-80 18-84 24C-88 30-92 35-98 39.6L98 39.6C92 35 88 30 84 24C80 18 77 10 76 0Z" fill="url(#orH)"/>
<path d="M-76 0.6H76" stroke="#c8662a" stroke-width="1" opacity=".6"/>
<g clip-path="url(#tbClip)">
<rect x="-66" y="-145" width="132" height="146" fill="url(#tbBodyH)"/>
<rect x="-64" y="-68" width="28" height="70" fill="#6c6d70" opacity=".75"/>
<rect x="-36" y="-66" width="76" height="36" fill="#dcdcde"/>
<rect x="-24" y="-66" width="5" height="24" fill="#f4f4f4"/><rect x="-14" y="-66" width="6" height="24" fill="#c4c4c6"/>
<rect x="-4.5" y="-66" width="12" height="24" fill="#48484a"/>
<rect x="12" y="-66" width="6" height="22" fill="#f4f4f4"/><rect x="20" y="-62" width="16" height="18" fill="#eeeeef"/>
<path d="M-36-41L-4-43L36-47L41-47L41-31L-36-31Z" fill="#f3f3f4"/>
<rect x="-58" y="-40" width="20" height="9" fill="#9c9da0"/>
<rect x="42" y="-56" width="4" height="56" fill="#f0f0f1" opacity=".9"/><rect x="50" y="-44" width="10" height="30" fill="#8f95a0" opacity=".7"/>
<rect x="-36" y="-30" width="78" height="31" fill="#8c8d90"/>
<rect x="-36" y="-30" width="9" height="22" fill="#2c2c2e"/><rect x="-36" y="-12" width="12" height="5" fill="#2c2c2e"/>
<rect x="-26" y="-30" width="9" height="31" fill="#a9aaac"/>
<rect x="-14" y="-30" width="2.5" height="31" fill="#e8e8ea"/><rect x="-9" y="-30" width="2.5" height="31" fill="#e8e8ea"/>
<rect x="18" y="-30" width="3" height="31" fill="#dedee0"/><rect x="24" y="-30" width="3" height="31" fill="#dedee0"/><rect x="30" y="-30" width="10" height="31" fill="#a3a4a7"/>
<rect x="40" y="-30" width="4" height="31" fill="#ececee"/>
<g fill="none" stroke="#1e9a48" stroke-width="2.6"><path d="M-30 0C-26-18 4-22 13-2"/><path d="M-22 0C-18-10-8-12-6-8"/><path d="M-8-1C-4-6 2-6 4-2"/></g>
<g fill="#1e9a48"><path d="M37-1L40-17L44-17L45-1Z"/><path d="M46-1L50-15L56-15L57-1L53-1L52-6L50-1Z"/><path d="M57-1L58-15L64-16L64-1Z"/><rect x="29" y="-4" width="4" height="4"/></g>
<g fill="#2a3a2e" opacity=".8"><rect x="-60" y="-11" width="2" height="9"/><rect x="-56.5" y="-11" width="2" height="9"/><rect x="-53" y="-11" width="2" height="9"/><rect x="-44" y="-11" width="4" height="10"/></g>
<rect x="-56.5" y="-31.6" width="113" height="1.3" fill="#fff"/>
<rect x="-66" y="-70" width="5" height="72" fill="#3c3d40" opacity=".55"/><rect x="61" y="-70" width="5" height="72" fill="#3c3d40" opacity=".5"/>
<path d="M-66-40V-125H66V-40C60-56 45-66 0-66C-45-66-60-56-66-40Z" fill="url(#tbDome)"/>
<rect x="-66" y="-112" width="132" height="36" fill="url(#tbDomeH)"/>
<path d="M-66-38V-68C-50-79-25-80 0-80C25-80 50-79 66-68V-38C61-54 45-65.5 0-65.5C-45-65.5-61-54-66-38Z" fill="url(#tbBand)"/>
<path d="M-14.9 -102C-15.5 -101.2 -17.2 -98.7 -18.6 -97.4C-20.0 -96.1 -21.6 -95.4 -23.3 -94.4C-25.0 -93.4 -26.6 -92.4 -28.7 -91.4C-30.8 -90.4 -33.2 -89.7 -36.0 -88.4C-38.8 -87.1 -42.5 -85.8 -45.7 -83.8C-48.9 -81.8 -52.7 -79.0 -55.4 -76.3C-58.1 -73.5 -60.4 -70.7 -61.8 -67.3C-63.2 -63.9 -63.5 -57.9 -63.8 -56.0L-62.8 -56C-62.2 -57.6 -60.8 -62.8 -59.2 -65.7C-57.6 -68.7 -55.7 -71.2 -53.2 -73.7C-50.7 -76.2 -47.2 -78.8 -44.1 -80.8C-41.0 -82.8 -37.4 -84.1 -34.6 -85.4C-31.8 -86.7 -29.3 -87.5 -27.1 -88.6C-24.9 -89.7 -23.1 -90.8 -21.3 -92.0C-19.6 -93.2 -17.9 -94.2 -16.6 -95.9C-15.3 -97.6 -13.9 -101.0 -13.4 -102.0Z" fill="#e4e4e4" opacity=".5"/>
<path d="M14.9 -102C15.5 -101.2 17.2 -98.7 18.6 -97.4C20.0 -96.1 21.6 -95.4 23.3 -94.4C25.0 -93.4 26.6 -92.4 28.7 -91.4C30.8 -90.4 33.2 -89.7 36.0 -88.4C38.8 -87.1 42.5 -85.8 45.7 -83.8C48.9 -81.8 52.7 -79.0 55.4 -76.3C58.1 -73.5 60.4 -70.7 61.8 -67.3C63.2 -63.9 63.5 -57.9 63.8 -56.0L62.8 -56C62.2 -57.6 60.8 -62.8 59.2 -65.7C57.6 -68.7 55.7 -71.2 53.2 -73.7C50.7 -76.2 47.2 -78.8 44.1 -80.8C41.0 -82.8 37.4 -84.1 34.6 -85.4C31.8 -86.7 29.3 -87.5 27.1 -88.6C24.9 -89.7 23.1 -90.8 21.3 -92.0C19.6 -93.2 17.9 -94.2 16.6 -95.9C15.3 -97.6 13.9 -101.0 13.4 -102.0Z" fill="#2a2a2a" opacity=".35"/>
<path d="M-15-104L-11-132C-11-139-6-144-2-144C3-144 8-139 9-132L15-104Z" fill="url(#tbTip)"/>
<path d="M-7.5-117C-9.5-126-8-136-2-141.5M5.5-117C9-124 8-135 1-141.5" stroke="#141414" stroke-width="2.6" fill="none" opacity=".9"/>
<path d="M-2-119C-3-127-2-134 0-139" stroke="#e8e8e8" stroke-width="1.5" fill="none" opacity=".75"/>
<path d="M-6-122L-2-118M3-128L6-124" stroke="#fff" stroke-width="1.6" fill="none" opacity=".85"/>
<path d="M-12-116L-8-119L8-119L12-116Z" fill="#1a1a1a" opacity=".85"/>
<rect x="-8" y="-115.6" width="15.6" height="2.8" fill="#fafafa"/>
<rect x="-7.4" y="-113" width="2.3" height="9" fill="#f4f4f4"/><rect x="4.8" y="-113" width="2.3" height="9" fill="#f4f4f4"/>
<rect x="-5" y="-112.6" width="9.8" height="8" fill="#4a4a4a"/>
<circle cx="-2" cy="-108.6" r="1.3" fill="#f0f0f0"/><circle cx="2.4" cy="-108.8" r="1.1" fill="#e0e0e0"/>
<ellipse cx="0.5" cy="-94.5" rx="5" ry="3.8" fill="#fff"/>
<ellipse cx="0" cy="-83.4" rx="12" ry="2.7" fill="#fff"/>
<path d="M-30-84C-14-88 14-88 30-84C14-85.5-14-85.5-30-84Z" fill="#e8e8e8" opacity=".6"/>
</g>
<path d="M64.4 0C64.4 -5.0 64.3 -21.8 64.3 -30.0C64.2 -38.2 64.2 -44.7 64.1 -49.0C64.0 -53.3 64.0 -53.0 63.6 -56.0C63.2 -59.0 63.0 -63.9 61.6 -67.3C60.2 -70.7 57.9 -73.5 55.2 -76.3C52.5 -79.0 48.7 -81.8 45.5 -83.8C42.3 -85.8 38.6 -87.1 35.8 -88.4C32.9 -89.7 30.5 -90.4 28.4 -91.4C26.3 -92.4 24.7 -93.4 23.0 -94.4C21.3 -95.4 19.7 -96.1 18.3 -97.4C16.9 -98.7 15.4 -100.6 14.6 -102.0C13.8 -103.4 13.7 -104.3 13.3 -105.9C12.9 -107.5 12.8 -109.2 12.2 -111.5C11.6 -113.8 10.3 -116.6 9.6 -120.0C8.9 -123.4 9.0 -128.7 8.2 -132.0C7.4 -135.3 6.6 -138.2 5.0 -140.0C3.4 -141.8 -0.4 -142.5 -1.5 -143.0C-2.6 -142.5 -6.5 -141.8 -8.0 -140.0C-9.5 -138.2 -10.1 -135.3 -10.6 -132.0C-11.1 -128.7 -10.9 -123.4 -11.2 -120.0C-11.5 -116.6 -12.2 -113.8 -12.6 -111.5C-13.0 -109.2 -13.4 -107.5 -13.8 -105.9C-14.2 -104.3 -14.1 -103.4 -14.9 -102.0C-15.7 -100.6 -17.2 -98.7 -18.6 -97.4C-20.0 -96.1 -21.6 -95.4 -23.3 -94.4C-25.0 -93.4 -26.6 -92.4 -28.7 -91.4C-30.8 -90.4 -33.2 -89.7 -36.0 -88.4C-38.8 -87.1 -42.5 -85.8 -45.7 -83.8C-48.9 -81.8 -52.7 -79.0 -55.4 -76.3C-58.1 -73.5 -60.4 -70.7 -61.8 -67.3C-63.2 -63.9 -63.4 -59.0 -63.8 -56.0C-64.2 -53.0 -64.2 -53.3 -64.3 -49.0C-64.4 -44.7 -64.4 -38.2 -64.4 -30.0C-64.4 -21.8 -64.5 -5.0 -64.5 0.0" fill="none" stroke="#38393c" stroke-width="1.1" opacity=".85"/>
</g>
<g transform="translate(629.9 912.6) scale(1.02 1.008)">
<path d="M-76 0C-77 10-80 18-84 24C-88 30-92 35-98 39.6L98 39.6C92 35 88 30 84 24C80 18 77 10 76 0Z" fill="url(#orV)"/>
<path d="M-76 0C-77 10-80 18-84 24C-88 30-92 35-98 39.6L98 39.6C92 35 88 30 84 24C80 18 77 10 76 0Z" fill="url(#orH)"/>
<path d="M-76 0.6H76" stroke="#c8662a" stroke-width="1" opacity=".6"/>
<g clip-path="url(#tbClip)">
<rect x="-66" y="-145" width="132" height="146" fill="url(#tbBodyH)"/>
<rect x="-64" y="-68" width="18" height="70" fill="#77787b" opacity=".7"/>
<rect x="-46" y="-66" width="88" height="36" fill="#d4d4d6"/>
<rect x="-40" y="-62" width="14" height="20" fill="#f2f2f3"/>
<rect x="-8" y="-66" width="14" height="22" fill="#5a5a5c"/><rect x="-16" y="-62" width="5" height="18" fill="#f0f0f0"/>
<rect x="14" y="-64" width="22" height="20" fill="#eeeeef"/>
<path d="M-42-44L-36-48L30-46L36-40L40-31L-48-31Z" fill="#f0f0f1"/>
<rect x="-22" y="-42" width="28" height="8" fill="#8a8b8e"/>
<rect x="40" y="-42" width="18" height="26" fill="#aab4c6" opacity=".8"/><rect x="44" y="-40" width="3" height="22" fill="#e8eaf0"/><rect x="50" y="-40" width="3" height="22" fill="#e8eaf0"/>
<rect x="-46" y="-30" width="88" height="31" fill="#909194"/>
<rect x="-46" y="-30" width="14" height="31" fill="#e4e4e6"/>
<rect x="3" y="-30" width="8" height="31" fill="#222224"/><rect x="12" y="-30" width="4" height="31" fill="#e4e4e6"/><rect x="-4" y="-30" width="4" height="31" fill="#d8d8da"/>
<rect x="18" y="-30" width="14" height="31" fill="#7e7f82"/>
<g fill="#1e9a48"><rect x="-63" y="-13" width="3.5" height="13"/><rect x="-58" y="-13" width="3.5" height="13"/><rect x="-53" y="-13" width="3" height="13"/><path d="M-48 0L-43-12L-38 0Z" fill="none" stroke="#1e9a48" stroke-width="2"/><circle cx="-33" cy="-4" r="3.2"/><circle cx="-33" cy="-10.5" r="2"/><rect x="-26" y="-8" width="9" height="7" rx="2"/><rect x="-14" y="-8" width="9" height="7" rx="2"/></g>
<path d="M36-1L42-14L47-1M38.5-5H45" fill="none" stroke="#1a1a1a" stroke-width="2"/><rect x="51" y="-14" width="2" height="13" fill="#1a1a1a"/><path d="M63-13C57-13 56-2 63-1" fill="none" stroke="#1e9a48" stroke-width="2.4"/>
<rect x="-56.5" y="-31.6" width="113" height="1.3" fill="#fff"/>
<rect x="-66" y="-70" width="5" height="72" fill="#3c3d40" opacity=".55"/><rect x="61" y="-70" width="5" height="72" fill="#3c3d40" opacity=".5"/>
<path d="M-66-40V-125H66V-40C60-56 45-66 0-66C-45-66-60-56-66-40Z" fill="url(#tbDome)"/>
<rect x="-66" y="-112" width="132" height="36" fill="url(#tbDomeH)"/>
<path d="M-66-38V-68C-50-79-25-80 0-80C25-80 50-79 66-68V-38C61-54 45-65.5 0-65.5C-45-65.5-61-54-66-38Z" fill="url(#tbBand)"/>
<path d="M-14.9 -102C-15.5 -101.2 -17.2 -98.7 -18.6 -97.4C-20.0 -96.1 -21.6 -95.4 -23.3 -94.4C-25.0 -93.4 -26.6 -92.4 -28.7 -91.4C-30.8 -90.4 -33.2 -89.7 -36.0 -88.4C-38.8 -87.1 -42.5 -85.8 -45.7 -83.8C-48.9 -81.8 -52.7 -79.0 -55.4 -76.3C-58.1 -73.5 -60.4 -70.7 -61.8 -67.3C-63.2 -63.9 -63.5 -57.9 -63.8 -56.0L-62.8 -56C-62.2 -57.6 -60.8 -62.8 -59.2 -65.7C-57.6 -68.7 -55.7 -71.2 -53.2 -73.7C-50.7 -76.2 -47.2 -78.8 -44.1 -80.8C-41.0 -82.8 -37.4 -84.1 -34.6 -85.4C-31.8 -86.7 -29.3 -87.5 -27.1 -88.6C-24.9 -89.7 -23.1 -90.8 -21.3 -92.0C-19.6 -93.2 -17.9 -94.2 -16.6 -95.9C-15.3 -97.6 -13.9 -101.0 -13.4 -102.0Z" fill="#e4e4e4" opacity=".5"/>
<path d="M14.9 -102C15.5 -101.2 17.2 -98.7 18.6 -97.4C20.0 -96.1 21.6 -95.4 23.3 -94.4C25.0 -93.4 26.6 -92.4 28.7 -91.4C30.8 -90.4 33.2 -89.7 36.0 -88.4C38.8 -87.1 42.5 -85.8 45.7 -83.8C48.9 -81.8 52.7 -79.0 55.4 -76.3C58.1 -73.5 60.4 -70.7 61.8 -67.3C63.2 -63.9 63.5 -57.9 63.8 -56.0L62.8 -56C62.2 -57.6 60.8 -62.8 59.2 -65.7C57.6 -68.7 55.7 -71.2 53.2 -73.7C50.7 -76.2 47.2 -78.8 44.1 -80.8C41.0 -82.8 37.4 -84.1 34.6 -85.4C31.8 -86.7 29.3 -87.5 27.1 -88.6C24.9 -89.7 23.1 -90.8 21.3 -92.0C19.6 -93.2 17.9 -94.2 16.6 -95.9C15.3 -97.6 13.9 -101.0 13.4 -102.0Z" fill="#2a2a2a" opacity=".35"/>
<path d="M-15-104L-11-132C-11-139-6-144-2-144C3-144 8-139 9-132L15-104Z" fill="url(#tbTip)"/>
<path d="M-7.5-117C-9.5-126-8-136-2-141.5M5.5-117C9-124 8-135 1-141.5" stroke="#141414" stroke-width="2.6" fill="none" opacity=".9"/>
<path d="M-2-119C-3-127-2-134 0-139" stroke="#e8e8e8" stroke-width="1.5" fill="none" opacity=".75"/>
<path d="M-6-122L-2-118M3-128L6-124" stroke="#fff" stroke-width="1.6" fill="none" opacity=".85"/>
<path d="M-12-116L-8-119L8-119L12-116Z" fill="#1a1a1a" opacity=".85"/>
<rect x="-8" y="-115.6" width="15.6" height="2.8" fill="#fafafa"/>
<rect x="-7.4" y="-113" width="2.3" height="9" fill="#f4f4f4"/><rect x="4.8" y="-113" width="2.3" height="9" fill="#f4f4f4"/>
<rect x="-5" y="-112.6" width="9.8" height="8" fill="#4a4a4a"/>
<circle cx="-2" cy="-108.6" r="1.3" fill="#f0f0f0"/><circle cx="2.4" cy="-108.8" r="1.1" fill="#e0e0e0"/>
<ellipse cx="0.5" cy="-94.5" rx="5" ry="3.8" fill="#fff"/>
<ellipse cx="0" cy="-83.4" rx="12" ry="2.7" fill="#fff"/>
<path d="M-30-84C-14-88 14-88 30-84C14-85.5-14-85.5-30-84Z" fill="#e8e8e8" opacity=".6"/>
</g>
<path d="M64.4 0C64.4 -5.0 64.3 -21.8 64.3 -30.0C64.2 -38.2 64.2 -44.7 64.1 -49.0C64.0 -53.3 64.0 -53.0 63.6 -56.0C63.2 -59.0 63.0 -63.9 61.6 -67.3C60.2 -70.7 57.9 -73.5 55.2 -76.3C52.5 -79.0 48.7 -81.8 45.5 -83.8C42.3 -85.8 38.6 -87.1 35.8 -88.4C32.9 -89.7 30.5 -90.4 28.4 -91.4C26.3 -92.4 24.7 -93.4 23.0 -94.4C21.3 -95.4 19.7 -96.1 18.3 -97.4C16.9 -98.7 15.4 -100.6 14.6 -102.0C13.8 -103.4 13.7 -104.3 13.3 -105.9C12.9 -107.5 12.8 -109.2 12.2 -111.5C11.6 -113.8 10.3 -116.6 9.6 -120.0C8.9 -123.4 9.0 -128.7 8.2 -132.0C7.4 -135.3 6.6 -138.2 5.0 -140.0C3.4 -141.8 -0.4 -142.5 -1.5 -143.0C-2.6 -142.5 -6.5 -141.8 -8.0 -140.0C-9.5 -138.2 -10.1 -135.3 -10.6 -132.0C-11.1 -128.7 -10.9 -123.4 -11.2 -120.0C-11.5 -116.6 -12.2 -113.8 -12.6 -111.5C-13.0 -109.2 -13.4 -107.5 -13.8 -105.9C-14.2 -104.3 -14.1 -103.4 -14.9 -102.0C-15.7 -100.6 -17.2 -98.7 -18.6 -97.4C-20.0 -96.1 -21.6 -95.4 -23.3 -94.4C-25.0 -93.4 -26.6 -92.4 -28.7 -91.4C-30.8 -90.4 -33.2 -89.7 -36.0 -88.4C-38.8 -87.1 -42.5 -85.8 -45.7 -83.8C-48.9 -81.8 -52.7 -79.0 -55.4 -76.3C-58.1 -73.5 -60.4 -70.7 -61.8 -67.3C-63.2 -63.9 -63.4 -59.0 -63.8 -56.0C-64.2 -53.0 -64.2 -53.3 -64.3 -49.0C-64.4 -44.7 -64.4 -38.2 -64.4 -30.0C-64.4 -21.8 -64.5 -5.0 -64.5 0.0" fill="none" stroke="#38393c" stroke-width="1.1" opacity=".85"/>
</g>
<path d="M203.7 1215H283.1V1230.3Q283.1 1232.2 277.1 1232.2H271.1V1236.8Q271.1 1242.8 264.1 1242.8H213.7Q205.7 1242.8 205.7 1234.8Z" fill="url(#footV)"/>
<path d="M664.6 1215H744.9V1234.8Q743.9 1242.8 735.9 1242.8H683.6Q676.6 1242.8 676.6 1236.8V1232.2H670.6Q664.6 1232.2 664.6 1230.3Z" fill="url(#footV)"/>
<rect x="83.3" y="947.2" width="780.4" height="268.5" rx="42" fill="#23252b"/>
<rect x="83.9" y="947.7" width="779.2" height="267.3" rx="41.5" fill="url(#pnlV)"/>
<rect x="83.9" y="947.7" width="779.2" height="267.3" rx="41.5" fill="url(#pnlGlow)"/>
<g clip-path="url(#cpFront)" opacity=".09"><rect x="83" y="947" width="781" height="269" filter="url(#grain)"/></g>
<path d="M128 948.2H819" stroke="#666870" stroke-width="1.2" opacity=".4"/>
<g transform="translate(197.7 1083.6)"><circle r="20.4" fill="#15161a" opacity=".6"/><circle r="19.8" fill="#0a0a0c"/><circle r="17.8" fill="#3c3d42"/><circle r="15.2" fill="#2a2b2f"/><circle r="13.6" fill="#131316"/><circle r="12.8" fill="#030304"/></g>
<g transform="translate(198.05 1122.4)" fill="none" stroke="#d6d6d8" stroke-width="1.5"><path d="M-6.4 2.4V-1.4A6.4 6.4 0 0 1 6.4-1.4V2.4"/><rect x="-7.4" y="0" width="3.9" height="7.9" rx="1.5" fill="#d6d6d8" stroke="none"/><rect x="3.5" y="0" width="3.9" height="7.9" rx="1.5" fill="#d6d6d8" stroke="none"/></g>
<g id="knobband" clip-path="url(#cpFront)"><ellipse cx="474" cy="1086" rx="250" ry="42" fill="#121318" opacity=".55" filter="url(#bl14)"/><ellipse cx="474" cy="1092" rx="120" ry="70" fill="#121318" opacity=".35" filter="url(#bl14)"/></g>
<g transform="translate(305.3 1081.7)">
<ellipse cx="4" cy="16.2" rx="72.9" ry="51.3" fill="#121317" opacity=".85" filter="url(#bl14)"/>
<clipPath id="kc1"><path d="M-54 0A54 54 0 1 0 54 0A54 54 0 1 0 -54 0ZM-38 0A38 38 0 1 1 38 0A38 38 0 1 1 -38 0Z" clip-rule="evenodd"/></clipPath>
<circle r="55" fill="#060608"/>
<circle r="54" fill="#131316"/>
<g clip-path="url(#kc1)"><g filter="url(#bl2)" fill="none" stroke-width="13.5">
<path d="M-35.26 27.55A44.75 44.75 0 0 1 -38.75 -22.38" stroke="#5e5f64"/>
<path d="M-38.75 -22.38A44.75 44.75 0 0 1 -11.58 -43.23" stroke="#3a3b40"/>
<path d="M16.76 -41.49A44.75 44.75 0 0 1 43.23 -11.58" stroke="#4e4f54"/>
<path d="M42.56 13.83A44.75 44.75 0 0 1 15.31 42.05" stroke="#66676c"/>
<path d="M-7.77 44.07A44.75 44.75 0 0 1 -35.26 27.55" stroke="#303136"/>
</g>
<circle r="52.8" fill="none" stroke="#050506" stroke-width="2.6"/>
</g>
<circle r="39.6" fill="none" stroke="#08080a" stroke-width="2.2" opacity=".7"/>
<circle r="38" fill="url(#knobFace)"/>
<circle r="37.6" fill="none" stroke="#56585e" stroke-width=".9" opacity=".85"/>
<path d="M0.00 -22.61L0.00 -32.49" stroke="#e4e4e6" stroke-width="3.2" stroke-linecap="round"/>
</g>
<g transform="translate(473.6 1080.4)">
<ellipse cx="4" cy="21.9" rx="98.7" ry="69.4" fill="#121317" opacity=".85" filter="url(#bl14)"/>
<clipPath id="kc2"><path d="M-73.1 0A73.1 73.1 0 1 0 73.1 0A73.1 73.1 0 1 0 -73.1 0ZM-54.8 0A54.8 54.8 0 1 1 54.8 0A54.8 54.8 0 1 1 -54.8 0Z" clip-rule="evenodd"/></clipPath>
<circle r="74.1" fill="#060608"/>
<circle r="73.1" fill="#131316"/>
<g clip-path="url(#kc2)"><g filter="url(#bl2)" fill="none" stroke-width="15.8">
<path d="M-49.41 38.60A62.70 62.70 0 0 1 -54.30 -31.35" stroke="#5e5f64"/>
<path d="M-54.30 -31.35A62.70 62.70 0 0 1 -16.23 -60.56" stroke="#3a3b40"/>
<path d="M23.49 -58.13A62.70 62.70 0 0 1 60.56 -16.23" stroke="#4e4f54"/>
<path d="M59.63 19.38A62.70 62.70 0 0 1 21.44 58.92" stroke="#66676c"/>
<path d="M-10.89 61.75A62.70 62.70 0 0 1 -49.41 38.60" stroke="#303136"/>
</g>
<circle r="71.89999999999999" fill="none" stroke="#050506" stroke-width="2.6"/>
</g>
<circle r="56.4" fill="none" stroke="#08080a" stroke-width="2.2" opacity=".7"/>
<circle r="54.8" fill="url(#knobFace)"/>
<circle r="54.4" fill="none" stroke="#56585e" stroke-width=".9" opacity=".85"/>
<path d="M-24.57 27.29L-33.37 37.06" stroke="#e4e4e6" stroke-width="4.0" stroke-linecap="round"/>
</g>
<g transform="translate(641.6 1081)">
<ellipse cx="4" cy="16.1" rx="72.5" ry="51.0" fill="#121317" opacity=".85" filter="url(#bl14)"/>
<clipPath id="kc3"><path d="M-53.7 0A53.7 53.7 0 1 0 53.7 0A53.7 53.7 0 1 0 -53.7 0ZM-38.5 0A38.5 38.5 0 1 1 38.5 0A38.5 38.5 0 1 1 -38.5 0Z" clip-rule="evenodd"/></clipPath>
<circle r="54.7" fill="#060608"/>
<circle r="53.7" fill="#131316"/>
<g clip-path="url(#kc3)"><g filter="url(#bl2)" fill="none" stroke-width="12.7">
<path d="M-35.34 27.61A44.85 44.85 0 0 1 -38.84 -22.43" stroke="#5e5f64"/>
<path d="M-38.84 -22.43A44.85 44.85 0 0 1 -11.61 -43.32" stroke="#3a3b40"/>
<path d="M16.80 -41.58A44.85 44.85 0 0 1 43.32 -11.61" stroke="#4e4f54"/>
<path d="M42.65 13.86A44.85 44.85 0 0 1 15.34 42.15" stroke="#66676c"/>
<path d="M-7.79 44.17A44.85 44.85 0 0 1 -35.34 27.61" stroke="#303136"/>
</g>
<circle r="52.5" fill="none" stroke="#050506" stroke-width="2.6"/>
</g>
<circle r="40.1" fill="none" stroke="#08080a" stroke-width="2.2" opacity=".7"/>
<circle r="38.5" fill="url(#knobFace)"/>
<circle r="38.1" fill="none" stroke="#56585e" stroke-width=".9" opacity=".85"/>
<path d="M0.00 -22.91L0.00 -32.92" stroke="#e4e4e6" stroke-width="3.2" stroke-linecap="round"/>
</g>
<circle cx="713.6" cy="1081.8" r="5.6" fill="#c01818" opacity=".45" filter="url(#bl1)"/><circle cx="713.6" cy="1081.8" r="4.2" fill="#ff1f24"/>
<g transform="translate(772.2 1081.3)">
<ellipse cx="1" cy="4" rx="31" ry="27" fill="#111216" opacity=".7" filter="url(#bl8)"/>
<circle r="23.4" fill="#1a1b1e"/>
<circle r="22.8" fill="url(#silverRing)"/>
<circle r="18.2" fill="none" stroke="#f4f4f6" stroke-width="1.2" opacity=".85"/>
<circle r="17" fill="#08080a"/>
<path d="M-6.2-20C-7-12-9.4-8-9.4-1C-9.4 9 9.8 9 9.8-1C9.8-8 8-12 7.6-20Z" fill="url(#leverH)"/>
<path d="M-9.4-1C-9.4 9 9.8 9 9.8-1C9.8-6 6-9 0-9C-6-9-9.4-6-9.4-1Z" fill="#060607" opacity=".4"/>
<ellipse cx="1.2" cy="-29.2" rx="10.3" ry="8.7" fill="url(#ballR)"/>
<ellipse cx="-3.6" cy="-29.6" rx="2.6" ry="3.6" fill="#fff" opacity=".8" filter="url(#bl1)"/>
<ellipse cx="6" cy="-29.6" rx="2.4" ry="3.4" fill="#fff" opacity=".7" filter="url(#bl1)"/>
<ellipse cx="1.6" cy="-36" rx="3" ry="1.3" fill="#fff" opacity=".75"/>
<ellipse cx="1.3" cy="-21.4" rx="6" ry="2.6" fill="#f2f2f2"/>
<ellipse cx="1.3" cy="-21.2" rx="4" ry="1.4" fill="#c4c4c6"/>
</g>
<g class="pt">
<text x="810" y="1055.2" font-size="11.2" textLength="23" lengthAdjust="spacingAndGlyphs">RCA</text>
<text x="810" y="1084.4" font-size="11.2" textLength="14.2" lengthAdjust="spacingAndGlyphs">BT</text>
<text x="810" y="1113.5" font-size="11.2" textLength="21.8" lengthAdjust="spacingAndGlyphs">OFF</text>
<rect x="268.7" y="1150.6" width="5.6" height="1.5" fill="#e0e0e2"/><text x="281.5" y="1156" font-size="13.2" textLength="49" lengthAdjust="spacingAndGlyphs">TREBLE</text><path d="M337.2 1151.3H343.2M340.2 1148.3V1154.3" stroke="#e0e0e2" stroke-width="1.4" fill="none"/>
<rect x="612.1" y="1149.7" width="6.4" height="1.5" fill="#e0e0e2"/><text x="624.7" y="1155.1" font-size="13.4" textLength="33.9" lengthAdjust="spacingAndGlyphs">BASS</text><path d="M664.7 1150.4H671.1M667.9 1147.2V1153.6" stroke="#e0e0e2" stroke-width="1.4" fill="none"/>
<text x="461.1" y="1175.5" font-size="12.6" textLength="25.5" lengthAdjust="spacingAndGlyphs">VOL</text>
<text x="145.1" y="994.7" font-size="17.7" textLength="83.8" lengthAdjust="spacingAndGlyphs" stroke="#e9e9ea" stroke-width=".45">Fosi Audio</text>
<text x="243.2" y="994.7" font-size="14.4" textLength="18.1" lengthAdjust="spacingAndGlyphs">P3</text>
</g>
<g transform="translate(112.1 974.3)">
<rect width="27.2" height="27.3" rx="5.8" fill="#e3e4e8"/>
<ellipse cx="8.8" cy="20.2" rx="4.7" ry="3.3" transform="rotate(-15 8.8 20.2)" fill="#3a3c44"/>
<path d="M13.2 20.4V9.4C13.2 6.2 15 5.1 21 5" fill="none" stroke="#3a3c44" stroke-width="2.5" stroke-linecap="round"/>
<path d="M13.6 9.9H20.8" fill="none" stroke="#3a3c44" stroke-width="2.2" stroke-linecap="round"/>
</g>
</g>

<!-- ===== CALLOUT LINES ===== -->
<g class="ln" id="lines">
<path d="M204.3 488.4H248.9"/>
<path d="M819.3 352H891.3"/>
<path d="M1008 352H1080"/>
<path d="M1281 421.3L1186.3 516"/>
<path d="M515.2 646.4H622.6"/>
<path d="M343.7 814.5H416"/>
<path d="M533 814.5H604.5"/>
<path d="M763.2 686.3V820"/>
<path d="M980 686.3V820"/>
<path d="M1120 703.7V820"/>
<path d="M1228.5 686V820"/>
<path d="M840.2 1049.9L968.9 975.6"/>
<path d="M840.1 1080H1067.1"/>
<path d="M840.2 1110.1L968.9 1184"/>
<path d="M198.75 1137.2V1285.4"/>
<path d="M306 1135.8V1285.4"/>
<path d="M474.2 1182.8V1285.4"/>
<path d="M642.1 1162V1285.4"/>
<path d="M713.6 1093.4V1284.9H1148.2"/>
</g>

<!-- ===== LABELS ===== -->
<g class="lbl" id="labels">
<text x="78.1" y="495.7" textLength="116.6" lengthAdjust="spacingAndGlyphs">Bluetooth</text>
<text x="79.01" y="528.5" textLength="99.38" lengthAdjust="spacingAndGlyphs">Antenna</text>
<text x="908.7" y="362.2" textLength="84.7" lengthAdjust="spacingAndGlyphs">5725W</text>
<text x="908.73" y="393.8" textLength="74.64" lengthAdjust="spacingAndGlyphs">Tubes</text>
<text x="1232.52" y="379.1" textLength="98.51" lengthAdjust="spacingAndGlyphs">Antenna</text>
<text x="1231.21" y="411.3" textLength="108.49" lengthAdjust="spacingAndGlyphs">Interface</text>
<text x="426.8" y="620.5" textLength="117.1" lengthAdjust="spacingAndGlyphs">Bluetooth</text>
<text x="426.22" y="653.1" textLength="68.89" lengthAdjust="spacingAndGlyphs">Reset</text>
<text x="426.71" y="685.9" textLength="82.72" lengthAdjust="spacingAndGlyphs">Switch</text>
<text x="432.53" y="824.3" textLength="84.18" lengthAdjust="spacingAndGlyphs">5725W</text>
<text x="432.73" y="856.5" textLength="74.66" lengthAdjust="spacingAndGlyphs">Tubes</text>
<text x="736.27" y="847.1" textLength="51.78" lengthAdjust="spacingAndGlyphs">RCA</text>
<text x="735.63" y="880.1" textLength="61.78" lengthAdjust="spacingAndGlyphs">Input</text>
<text x="954.77" y="846.2" textLength="51.61" lengthAdjust="spacingAndGlyphs">RCA</text>
<text x="955.47" y="879.2" textLength="81.58" lengthAdjust="spacingAndGlyphs">Output</text>
<text x="1094.24" y="847.1" textLength="51.03" lengthAdjust="spacingAndGlyphs">AUX</text>
<text x="1094.14" y="880.1" textLength="80.77" lengthAdjust="spacingAndGlyphs">Output</text>
<text x="1207.06" y="849.6" textLength="90.31" lengthAdjust="spacingAndGlyphs">DC 12V</text>
<text x="1207.2" y="882.3" textLength="106.46" lengthAdjust="spacingAndGlyphs">Power In</text>
<text x="978.17" y="985.4" textLength="129.17" lengthAdjust="spacingAndGlyphs">RCA Mode</text>
<text x="1075.14" y="1090" textLength="192.42" lengthAdjust="spacingAndGlyphs">Bluetooth Mode</text>
<text x="978.58" y="1196.1" textLength="120.54" lengthAdjust="spacingAndGlyphs">Power Off</text>
<text x="1156.06" y="1295.2" textLength="182.39" lengthAdjust="spacingAndGlyphs">Mode Indicator</text>
<text x="125.21" y="1316.3" textLength="85.6" lengthAdjust="spacingAndGlyphs">3.5mm</text>
<text x="125.1" y="1349.4" textLength="139.3" lengthAdjust="spacingAndGlyphs">Headphone</text>
<text x="125.83" y="1381.6" textLength="56.96" lengthAdjust="spacingAndGlyphs">Jack</text>
<text x="298.76" y="1316.3" textLength="75.09" lengthAdjust="spacingAndGlyphs">Treble</text>
<text x="297.11" y="1349.4" textLength="62.43" lengthAdjust="spacingAndGlyphs">Knob</text>
<text x="450.84" y="1316.3" textLength="91.3" lengthAdjust="spacingAndGlyphs">Volume</text>
<text x="449.12" y="1349.4" textLength="62.12" lengthAdjust="spacingAndGlyphs">Knob</text>
<text x="618.13" y="1316.3" textLength="60.53" lengthAdjust="spacingAndGlyphs">Bass</text>
<text x="618.11" y="1349.4" textLength="63.66" lengthAdjust="spacingAndGlyphs">Knob</text>
</g>
</svg>
</body>
</html>
